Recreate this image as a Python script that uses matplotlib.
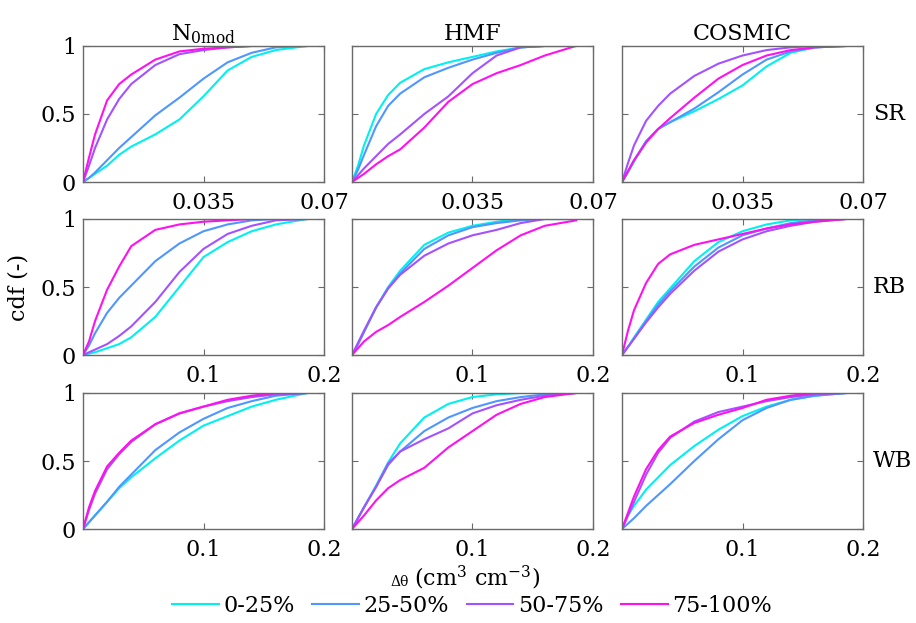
import matplotlib
matplotlib.use("Agg")
import matplotlib.pyplot as plt
from matplotlib.lines import Line2D

plt.rcParams['font.family'] = ['DejaVu Serif']
plt.rcParams['mathtext.fontset'] = 'dejavuserif'

# ---------------- data ----------------
series_labels = ["0-25%", "25-50%", "50-75%", "75-100%"]
series_colors = ["#00F0F0", "#4F96FF", "#A452FF", "#FF10F0"]
col_titles = [r"N$_{\mathregular{0mod}}$", "HMF", "COSMIC"]
row_labels = ["SR", "RB", "WB"]

x_sr = [0, 0.00175, 0.0035, 0.007, 0.0105, 0.014, 0.021, 0.028, 0.035, 0.042, 0.049, 0.056, 0.065]
x_rbwb = [0, 0.005, 0.01, 0.02, 0.03, 0.04, 0.06, 0.08, 0.1, 0.12, 0.14, 0.16, 0.186]

# cdf values, per row (SR, RB, WB) and column (N0mod, HMF, COSMIC), series order as series_labels
cdf_sr_n0 = [
    [0, 0.03, 0.06, 0.12, 0.20, 0.26, 0.35, 0.46, 0.63, 0.82, 0.92, 0.97, 1.0],
    [0, 0.03, 0.07, 0.16, 0.25, 0.33, 0.49, 0.62, 0.76, 0.88, 0.95, 0.99, 1.0],
    [0, 0.12, 0.25, 0.46, 0.61, 0.72, 0.86, 0.94, 0.97, 0.99, 1.0, 1.0, 1.0],
    [0, 0.18, 0.35, 0.60, 0.72, 0.79, 0.90, 0.96, 0.98, 0.99, 1.0, 1.0, 1.0],
]
cdf_sr_hmf = [
    [0, 0.12, 0.27, 0.50, 0.64, 0.73, 0.83, 0.88, 0.92, 0.96, 0.99, 1.0, 1.0],
    [0, 0.09, 0.20, 0.41, 0.56, 0.65, 0.77, 0.84, 0.90, 0.95, 0.99, 1.0, 1.0],
    [0, 0.05, 0.10, 0.19, 0.28, 0.35, 0.50, 0.63, 0.80, 0.93, 0.99, 1.0, 1.0],
    [0, 0.03, 0.06, 0.13, 0.19, 0.24, 0.40, 0.59, 0.72, 0.80, 0.86, 0.93, 1.0],
]
cdf_sr_cos = [
    [0, 0.07, 0.15, 0.30, 0.39, 0.44, 0.52, 0.61, 0.71, 0.85, 0.95, 0.99, 1.0],
    [0, 0.08, 0.16, 0.30, 0.39, 0.44, 0.54, 0.66, 0.79, 0.90, 0.96, 0.99, 1.0],
    [0, 0.14, 0.27, 0.45, 0.56, 0.65, 0.78, 0.87, 0.93, 0.97, 0.99, 1.0, 1.0],
    [0, 0.08, 0.16, 0.29, 0.39, 0.47, 0.62, 0.76, 0.86, 0.93, 0.97, 0.99, 1.0],
]
cdf_rb_n0 = [
    [0, 0.01, 0.02, 0.05, 0.08, 0.13, 0.28, 0.50, 0.72, 0.83, 0.91, 0.96, 1.0],
    [0, 0.07, 0.16, 0.31, 0.42, 0.51, 0.69, 0.82, 0.91, 0.96, 0.99, 1.0, 1.0],
    [0, 0.02, 0.04, 0.08, 0.14, 0.21, 0.39, 0.61, 0.78, 0.89, 0.95, 0.99, 1.0],
    [0, 0.10, 0.25, 0.48, 0.65, 0.80, 0.92, 0.96, 0.98, 0.99, 1.0, 1.0, 1.0],
]
cdf_rb_hmf = [
    [0, 0.08, 0.17, 0.35, 0.50, 0.62, 0.81, 0.90, 0.95, 0.98, 1.0, 1.0, 1.0],
    [0, 0.08, 0.17, 0.35, 0.49, 0.60, 0.78, 0.88, 0.94, 0.97, 0.99, 1.0, 1.0],
    [0, 0.09, 0.18, 0.35, 0.49, 0.59, 0.73, 0.82, 0.88, 0.92, 0.97, 1.0, 1.0],
    [0, 0.05, 0.10, 0.17, 0.22, 0.28, 0.39, 0.51, 0.64, 0.77, 0.88, 0.95, 0.99],
]
cdf_rb_cos = [
    [0, 0.06, 0.13, 0.26, 0.39, 0.49, 0.69, 0.83, 0.91, 0.96, 0.99, 1.0, 1.0],
    [0, 0.06, 0.12, 0.25, 0.37, 0.47, 0.65, 0.79, 0.88, 0.93, 0.97, 0.99, 1.0],
    [0, 0.06, 0.12, 0.24, 0.35, 0.45, 0.62, 0.76, 0.85, 0.91, 0.95, 0.98, 1.0],
    [0, 0.18, 0.33, 0.53, 0.67, 0.74, 0.81, 0.85, 0.89, 0.93, 0.96, 0.98, 1.0],
]
cdf_wb_n0 = [
    [0, 0.05, 0.10, 0.20, 0.30, 0.38, 0.52, 0.65, 0.76, 0.83, 0.90, 0.95, 1.0],
    [0, 0.05, 0.10, 0.20, 0.31, 0.40, 0.58, 0.71, 0.81, 0.89, 0.94, 0.98, 1.0],
    [0, 0.14, 0.26, 0.44, 0.55, 0.64, 0.77, 0.85, 0.90, 0.94, 0.97, 0.99, 1.0],
    [0, 0.16, 0.28, 0.46, 0.56, 0.65, 0.77, 0.85, 0.90, 0.95, 0.98, 1.0, 1.0],
]
cdf_wb_hmf = [
    [0, 0.08, 0.16, 0.32, 0.49, 0.63, 0.82, 0.92, 0.97, 0.99, 1.0, 1.0, 1.0],
    [0, 0.08, 0.16, 0.31, 0.47, 0.57, 0.72, 0.82, 0.89, 0.94, 0.97, 0.99, 1.0],
    [0, 0.08, 0.16, 0.31, 0.48, 0.57, 0.66, 0.74, 0.85, 0.91, 0.95, 0.98, 1.0],
    [0, 0.05, 0.10, 0.21, 0.30, 0.36, 0.45, 0.60, 0.72, 0.84, 0.92, 0.97, 1.0],
]
cdf_wb_cos = [
    [0, 0.10, 0.17, 0.29, 0.38, 0.47, 0.61, 0.73, 0.83, 0.90, 0.95, 0.98, 1.0],
    [0, 0.04, 0.08, 0.17, 0.25, 0.33, 0.50, 0.66, 0.80, 0.89, 0.95, 0.98, 1.0],
    [0, 0.10, 0.20, 0.40, 0.56, 0.67, 0.79, 0.86, 0.90, 0.94, 0.97, 0.99, 1.0],
    [0, 0.12, 0.24, 0.44, 0.58, 0.68, 0.78, 0.84, 0.89, 0.95, 0.98, 1.0, 1.0],
]

panels = [
    [cdf_sr_n0, cdf_sr_hmf, cdf_sr_cos],
    [cdf_rb_n0, cdf_rb_hmf, cdf_rb_cos],
    [cdf_wb_n0, cdf_wb_hmf, cdf_wb_cos],
]
row_x = [x_sr, x_rbwb, x_rbwb]
row_xmax = [0.07, 0.2, 0.2]
row_xticks = [[0.035, 0.07], [0.1, 0.2], [0.1, 0.2]]
row_xticklabels = [["0.035", "0.07"], ["0.1", "0.2"], ["0.1", "0.2"]]
yticks = [0, 0.5, 1]
yticklabels = ["0", "0.5", "1"]

# ---------------- figure ----------------
W, H = 916, 623
fig = plt.figure(figsize=(W / 100, H / 100), dpi=100)
col_left = [83, 352, 622]
row_top = [46, 219, 393]
pw, ph = 241, 136
spine_col = "#6a6a6a"
fs = 16

for r in range(3):
    for c in range(3):
        ax = fig.add_axes([col_left[c] / W, 1 - (row_top[r] + ph) / H, pw / W, ph / H])
        for s in range(4):
            ax.plot(row_x[r], panels[r][c][s], color=series_colors[s], lw=1.5)
        ax.set_xlim(0, row_xmax[r])
        ax.set_ylim(0, 1)
        ax.set_xticks(row_xticks[r])
        ax.set_xticklabels(row_xticklabels[r])
        ax.set_yticks(yticks)
        if c == 0:
            ax.set_yticklabels(yticklabels)
        else:
            ax.set_yticklabels([])
        ax.tick_params(direction="in", top=True, right=True, length=4,
                       color=spine_col, labelsize=fs, pad=7)
        ax.tick_params(axis="y", pad=5)
        for sp in ax.spines.values():
            sp.set_color(spine_col)
            sp.set_linewidth(1.0)
        if r == 0:
            ax.set_title(col_titles[c], fontsize=fs, pad=4)
        if c == 2:
            ax.text(1.04, 0.5, row_labels[r], transform=ax.transAxes,
                    fontsize=fs, va="center", ha="left")

fig.text(18 / W, 1 - 287 / H, "cdf (-)", rotation=90, fontsize=fs,
         ha="center", va="center")
# x-axis label: small upright delta-theta followed by the unit
fig.text(390 / W, 1 - 586 / H, "Δθ", fontsize=10, ha="left", va="baseline")
fig.text(414 / W, 1 - 586 / H,
         r"(cm$^{\mathregular{3}}$ cm$^{\mathregular{-3}}$)",
         fontsize=fs, ha="left", va="baseline")

handles = [Line2D([], [], color=series_colors[i], lw=1.5) for i in range(4)]
fig.legend(handles, series_labels, loc="center", bbox_to_anchor=(472 / W, 1 - 606 / H),
           ncol=4, frameon=False, fontsize=fs, handlelength=2.1,
           handletextpad=0.2, columnspacing=0.8, borderpad=0)

fig.savefig("out.png", dpi=100)
